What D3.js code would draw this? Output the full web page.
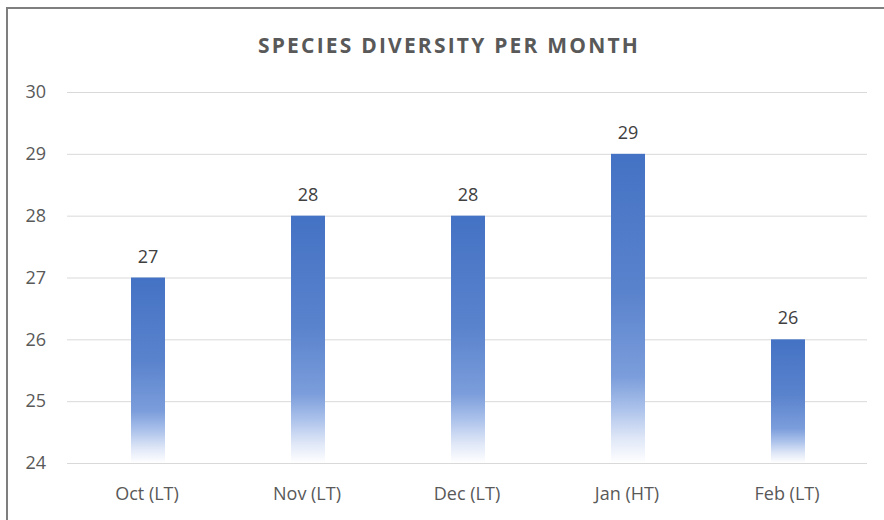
<!DOCTYPE html>
<html>
<head>
<meta charset="utf-8">
<script src="https://cdn.jsdelivr.net/npm/d3@7"></script>
<style>
  html, body { margin: 0; padding: 0; background: #fff; }
  svg { display: block; }
</style>
</head>
<body>
<svg id="chart" width="884" height="520"></svg>
<script>
const categories = ["Oct (LT)", "Nov (LT)", "Dec (LT)", "Jan (HT)", "Feb (LT)"];
const values = [27, 28, 28, 29, 26];
const yTicks = [24, 25, 26, 27, 28, 29, 30];
const title = "SPECIES DIVERSITY PER MONTH";

const W = 884, H = 520;
const margin = { left: 67, right: 17, top: 92, bottom: 57 };
const svg = d3.select("#chart");
const font = "'Open Sans', 'Liberation Sans', sans-serif";

// frame
svg.append("rect").attr("x", 0).attr("y", 0).attr("width", W).attr("height", H).attr("fill", "#fff");
svg.append("line").attr("x1", 7).attr("x2", W).attr("y1", 8).attr("y2", 8).attr("stroke", "#7f7f7f").attr("stroke-width", 2);
svg.append("line").attr("x1", 7).attr("x2", 7).attr("y1", 7).attr("y2", H).attr("stroke", "#7f7f7f").attr("stroke-width", 2);

const x = d3.scaleBand().domain(categories).range([margin.left, W - margin.right]).padding(0);
const y = d3.scaleLinear().domain([24, 30]).range([H - margin.bottom, margin.top]);

// gradient
const defs = svg.append("defs");
const grad = defs.append("linearGradient").attr("id", "barGrad")
  .attr("x1", 0).attr("y1", 0).attr("x2", 0).attr("y2", 1);
[[0, "#4472c4"], [0.45, "#5a83cd"], [0.72, "#7b9ddb"], [0.82, "#a9c0ea"], [0.92, "#dfe7f7"], [1, "#ffffff"]]
  .forEach(([o, c]) => grad.append("stop").attr("offset", o).attr("stop-color", c));

// gridlines
const yAxis = d3.axisLeft(y).tickValues(yTicks).tickSize(-(W - margin.left - margin.right)).tickPadding(21).tickFormat(d3.format("d"));
const gy = svg.append("g").attr("transform", `translate(${margin.left},0)`).call(yAxis);
gy.select(".domain").remove();
gy.selectAll(".tick line").attr("stroke", "#d9d9d9").attr("stroke-width", 1);
gy.selectAll(".tick text").attr("fill", "#595959").style("font-family", font).style("font-size", "18px");

// bars
const bw = 34;
svg.append("g").selectAll("rect").data(values).join("rect")
  .attr("x", (d, i) => x(categories[i]) + x.bandwidth() / 2 - bw / 2 + 1)
  .attr("width", bw)
  .attr("y", d => y(d))
  .attr("height", d => y(24) - y(d))
  .attr("fill", "url(#barGrad)");

// value labels
svg.append("g").selectAll("text").data(values).join("text")
  .attr("x", (d, i) => x(categories[i]) + x.bandwidth() / 2 + 1)
  .attr("y", d => y(d) - 15)
  .attr("text-anchor", "middle")
  .attr("fill", "#404040")
  .style("font-family", font).style("font-size", "18px")
  .text(d => d);

// x axis labels
const xAxis = d3.axisBottom(x).tickSize(0).tickPadding(24);
const gx = svg.append("g").attr("transform", `translate(0,${y(24)})`).call(xAxis);
gx.select(".domain").remove();
gx.selectAll(".tick text").attr("fill", "#595959").style("font-family", font).style("font-size", "18px");

// title
svg.append("text").attr("x", 449).attr("y", 53).attr("text-anchor", "middle")
  .attr("fill", "#595959").style("font-family", font).style("font-size", "21px")
  .style("font-weight", "bold").style("letter-spacing", "2.2px")
  .text(title);
</script>
</body>
</html>
